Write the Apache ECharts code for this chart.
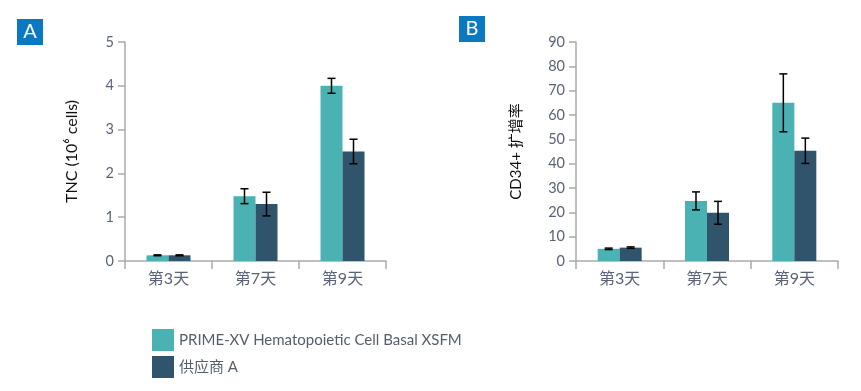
<!DOCTYPE html>
<html><head><meta charset="utf-8">
<script src="https://cdn.jsdelivr.net/npm/echarts@6/dist/echarts.min.js"></script>
<style>html,body{margin:0;padding:0;background:#fff}#c{width:861px;height:391px}</style>
</head><body><div id="c"></div>
<script>
const days = ['第3天', '第7天', '第9天'];
const seriesNames = ['PRIME-XV Hematopoietic Cell Basal XSFM', '供应商 A'];
const tncPrime = [0.13, 1.48, 4.0];
const tncPrimeErr = [0.01, 0.17, 0.17];
const tncVendor = [0.13, 1.30, 2.50];
const tncVendorErr = [0.01, 0.27, 0.28];
const cd34Prime = [5.0, 24.7, 65.0];
const cd34PrimeErr = [0.3, 3.7, 11.9];
const cd34Vendor = [5.5, 19.8, 45.3];
const cd34VendorErr = [0.3, 4.7, 5.2];
const tncTicks = {min: 0, max: 5, interval: 1};
const cd34Ticks = {min: 0, max: 90, interval: 10};

const TEAL = '#4AB2B3', DARK = '#30546C';
const BW = 22;
const FONT = 'Lato, "Noto Sans CJK SC", sans-serif';
const chart = echarts.init(document.getElementById('c'));

function errSeries(name, vals, errs, xi, yi, side) {
  return {
    type: 'custom', name: name, xAxisIndex: xi, yAxisIndex: yi, z: 5,
    data: vals.map((v, i) => [i, v, errs[i]]),
    renderItem: function (params, api) {
      const i = api.value(0), v = api.value(1), e = api.value(2);
      const hi = api.coord([i, v + e]);
      const lo = api.coord([i, v - e]);
      const x = hi[0] + side * BW / 2;
      const cap = 4;
      const st = {stroke: '#000', lineWidth: 1.5};
      return {type: 'group', children: [
        {type: 'line', shape: {x1: x, y1: hi[1], x2: x, y2: lo[1]}, style: st},
        {type: 'line', shape: {x1: x - cap, y1: hi[1], x2: x + cap, y2: hi[1]}, style: st},
        {type: 'line', shape: {x1: x - cap, y1: lo[1], x2: x + cap, y2: lo[1]}, style: st}
      ]};
    }
  };
}

function xAx(gi) {
  return {
    type: 'category', gridIndex: gi, data: days,
    axisLine: {lineStyle: {color: '#aaa', width: 1.5}},
    axisTick: {show: true, length: 8, lineStyle: {color: '#aaa', width: 1.5}},
    axisLabel: {color: '#5a6478', fontSize: 16, margin: 10, fontFamily: FONT}
  };
}
function yAx(gi, t, name, gap, fs) {
  return {
    type: 'value', gridIndex: gi, min: t.min, max: t.max, interval: t.interval,
    name: name, nameLocation: 'middle', nameGap: gap, nameRotate: 90,
    nameTextStyle: {color: '#111', fontSize: fs, fontFamily: FONT},
    axisLine: {show: true, lineStyle: {color: '#aaa', width: 1.5}},
    axisTick: {show: true, length: 7, lineStyle: {color: '#aaa', width: 1.5}},
    splitLine: {show: false},
    axisLabel: {color: '#5a6478', fontSize: 14.5, margin: 11, fontFamily: FONT}
  };
}
function bar(name, vals, color, xi) {
  return {type: 'bar', name: name, xAxisIndex: xi, yAxisIndex: xi, data: vals,
    barWidth: BW, barGap: '0%', itemStyle: {color: color}};
}

chart.setOption({
  animation: false,
  textStyle: {fontFamily: FONT},
  color: [TEAL, DARK],
  grid: [
    {left: 125, top: 42, width: 261, height: 219},
    {left: 576, top: 42, width: 262, height: 219}
  ],
  xAxis: [xAx(0), xAx(1)],
  yAxis: [yAx(0, tncTicks, 'TNC (10⁶ cells)', 45, 16), yAx(1, cd34Ticks, 'CD34+ 扩增率', 52, 15)],
  legend: {
    orient: 'vertical', left: 147, top: 324, itemWidth: 22, itemHeight: 22, itemGap: 5,
    icon: 'rect', data: seriesNames,
    textStyle: {color: '#555e6c', fontSize: 15, fontFamily: FONT}
  },
  series: [
    bar(seriesNames[0], tncPrime, TEAL, 0),
    bar(seriesNames[1], tncVendor, DARK, 0),
    bar(seriesNames[0], cd34Prime, TEAL, 1),
    bar(seriesNames[1], cd34Vendor, DARK, 1),
    errSeries(seriesNames[0], tncPrime, tncPrimeErr, 0, 0, -1),
    errSeries(seriesNames[1], tncVendor, tncVendorErr, 0, 0, 1),
    errSeries(seriesNames[0], cd34Prime, cd34PrimeErr, 1, 1, -1),
    errSeries(seriesNames[1], cd34Vendor, cd34VendorErr, 1, 1, 1)
  ],
  graphic: [
    {type: 'group', left: 17, top: 19, children: [
      {type: 'rect', shape: {x: 0, y: 0, width: 26, height: 26}, style: {fill: '#0A79C1'}},
      {type: 'text', x: 13, y: 13, style: {text: 'A', fill: '#fff', fontSize: 20, fontFamily: FONT, align: 'center', verticalAlign: 'middle'}}
    ]},
    {type: 'group', left: 459, top: 16, children: [
      {type: 'rect', shape: {x: 0, y: 0, width: 26, height: 26}, style: {fill: '#0A79C1'}},
      {type: 'text', x: 13, y: 13, style: {text: 'B', fill: '#fff', fontSize: 20, fontFamily: FONT, align: 'center', verticalAlign: 'middle'}}
    ]}
  ]
});
</script></body></html>
